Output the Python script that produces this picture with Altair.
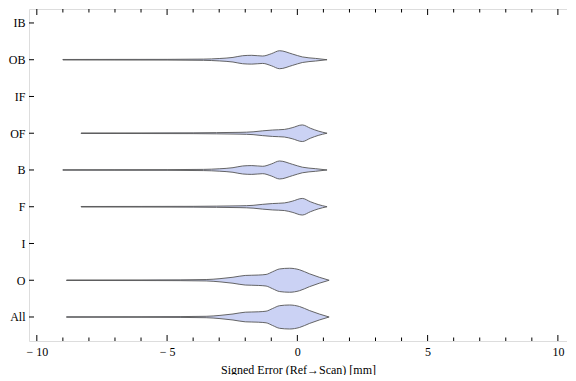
import altair as alt
import pandas as pd

# Categories, top to bottom as drawn
categories = ["IB", "OB", "IF", "OF", "B", "F", "I", "O", "All"]

# Violin profiles: x positions (mm) and half-widths (relative density, px-like units)
ob_x = [-9.0, -7.0, -5.0, -3.6, -3.0, -2.47, -2.1, -1.75, -1.33, -1.0, -0.68, -0.19, 0.19, 0.7, 1.14]
ob_w = [0.25, 0.3, 0.35, 0.6, 1.2, 2.3, 4.0, 4.4, 3.7, 6.0, 9.0, 5.7, 2.8, 1.3, 0.0]

of_x = [-8.3, -6.0, -4.0, -3.1, -2.2, -1.7, -1.33, -0.95, -0.5, -0.2, 0.19, 0.5, 0.8, 1.14]
of_w = [0.25, 0.3, 0.4, 0.6, 0.9, 1.4, 2.4, 3.2, 3.8, 5.5, 8.3, 5.0, 2.2, 0.0]

b_x = [-9.0, -7.0, -5.0, -3.6, -3.0, -2.47, -2.1, -1.75, -1.33, -1.0, -0.68, -0.19, 0.19, 0.7, 1.14]
b_w = [0.25, 0.3, 0.35, 0.6, 1.2, 2.3, 4.0, 4.4, 3.7, 6.0, 9.0, 5.7, 2.8, 1.3, 0.0]

f_x = [-8.3, -6.0, -4.0, -3.1, -2.2, -1.7, -1.33, -0.95, -0.5, -0.2, 0.19, 0.5, 0.8, 1.14]
f_w = [0.25, 0.3, 0.4, 0.6, 0.9, 1.4, 2.4, 3.2, 3.8, 5.5, 8.3, 5.0, 2.2, 0.0]

o_x = [-8.86, -6.0, -4.5, -3.5, -2.97, -2.47, -2.0, -1.5, -1.2, -0.95, -0.68, -0.3, 0.08, 0.46, 0.84, 1.22]
o_w = [0.25, 0.3, 0.4, 0.7, 1.6, 3.0, 4.8, 5.2, 5.8, 8.5, 11.3, 12.0, 10.5, 6.5, 3.0, 0.0]

all_x = [-8.86, -6.0, -4.5, -3.5, -2.97, -2.47, -2.0, -1.5, -1.2, -0.95, -0.68, -0.3, 0.08, 0.46, 0.84, 1.22]
all_w = [0.25, 0.3, 0.4, 0.7, 1.6, 3.0, 4.8, 5.2, 5.8, 8.5, 11.3, 12.0, 10.5, 6.5, 3.0, 0.0]

profiles = {
    "OB": (ob_x, ob_w),
    "OF": (of_x, of_w),
    "B": (b_x, b_w),
    "F": (f_x, f_w),
    "O": (o_x, o_w),
    "All": (all_x, all_w),
}

major_ticks = [-10, -5, 0, 5, 10]
minor_ticks = [v for v in range(-10, 11) if v not in major_ticks]

n = len(categories)
rows = []
for i, c in enumerate(categories):
    pos = n - 1 - i
    if c in profiles:
        xs, ws = profiles[c]
        for xv, wv in zip(xs, ws):
            rows.append({"cat": c, "pos": pos, "x": xv, "w": wv})
df = pd.DataFrame(rows)

cat_df = pd.DataFrame({"cat": categories, "pos": [n - 1 - i for i in range(n)]})
major_df = pd.DataFrame({"t": major_ticks})
minor_df = pd.DataFrame({"t": minor_ticks})

W, H = 538, 332
FONT = "Liberation Serif"
xscale = alt.Scale(domain=[-10.3, 10.35], nice=False, zero=False)
yscale = alt.Scale(domain=[-0.653, 8.38], nice=False, zero=False)

labels_js = "[" + ",".join("'%s'" % c for c in reversed(categories)) + "]"

x_axis = alt.Axis(
    values=major_ticks, tickSize=0, domain=False, grid=False,
    labelFont=FONT, labelFontSize=12, labelColor="black", labelPadding=5,
    labelExpr="datum.value < 0 ? '\u2212 ' + abs(datum.value) : '' + datum.value",
    title="Signed Error (Ref\u2192Scan) [mm]", titleFont=FONT, titleFontSize=12,
    titleFontWeight="normal", titleColor="black", titlePadding=7,
)
y_axis = alt.Axis(
    values=list(range(n)), tickSize=0, domain=False, grid=False,
    labelFont=FONT, labelFontSize=12, labelColor="black", labelPadding=4,
    labelExpr=labels_js + "[datum.value]", title=None,
)

violins = alt.Chart(df).transform_calculate(
    hi="datum.pos + datum.w / 36.75",
    lo="datum.pos - datum.w / 36.75",
).mark_area(
    orient="vertical", interpolate="monotone", fill="#CBD2F4",
    stroke="#555555", strokeWidth=0.9, fillOpacity=1,
).encode(
    x=alt.X("x:Q", scale=xscale, axis=x_axis),
    y=alt.Y("hi:Q", scale=yscale, axis=y_axis),
    y2="lo:Q",
    detail="cat:N",
)

tick_color = "black"
bot_major = alt.Chart(major_df).mark_rule(color=tick_color, strokeWidth=1).encode(
    x=alt.X("t:Q", scale=xscale), y=alt.value(H), y2=alt.value(H - 6))
bot_minor = alt.Chart(minor_df).mark_rule(color=tick_color, strokeWidth=1).encode(
    x=alt.X("t:Q", scale=xscale), y=alt.value(H), y2=alt.value(H - 3.5))
top_major = alt.Chart(major_df).mark_rule(color=tick_color, strokeWidth=1).encode(
    x=alt.X("t:Q", scale=xscale), y=alt.value(0), y2=alt.value(6))
top_minor = alt.Chart(minor_df).mark_rule(color=tick_color, strokeWidth=1).encode(
    x=alt.X("t:Q", scale=xscale), y=alt.value(0), y2=alt.value(3.5))
left_ticks = alt.Chart(cat_df).mark_rule(color=tick_color, strokeWidth=1).encode(
    y=alt.Y("pos:Q", scale=yscale), x=alt.value(0), x2=alt.value(5))

chart = alt.layer(
    violins, bot_major, bot_minor, top_major, top_minor, left_ticks
).properties(
    width=W, height=H,
    padding={"left": 0, "top": 0, "right": 0, "bottom": 0},
).configure_view(
    stroke="black", strokeWidth=1,
).configure(background="white")

chart.save("out.html", embed_options={"renderer": "svg", "actions": False})
